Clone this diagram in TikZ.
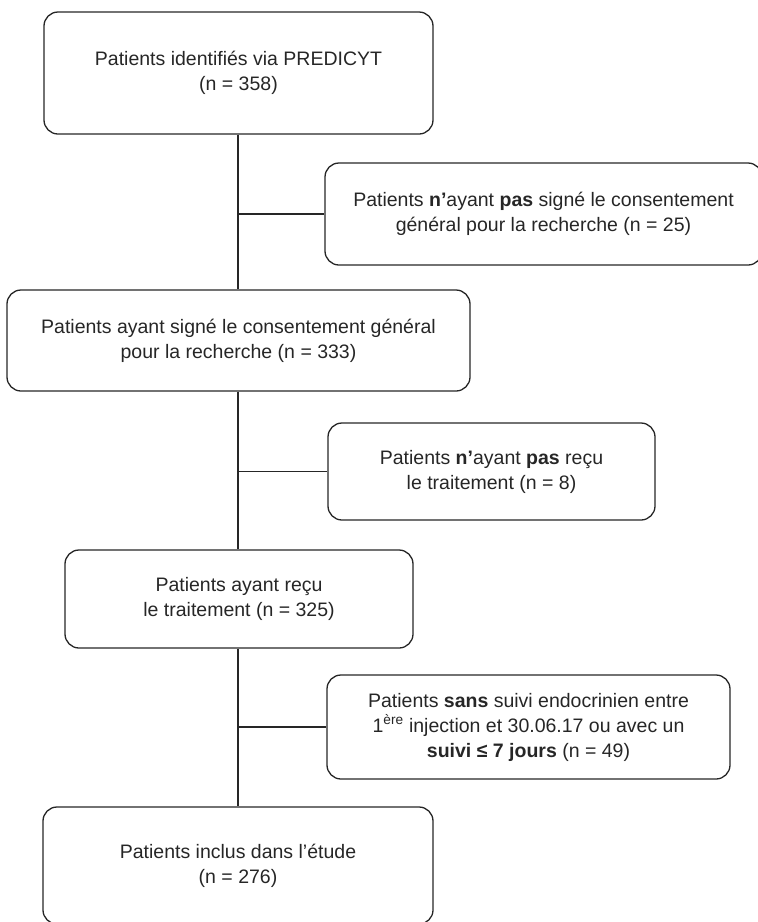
\documentclass[tikz,border=0pt]{standalone}
\usepackage{fontspec}
\setmainfont{Liberation Sans}
\usepackage{tikz}

\tikzset{
  boite/.style={draw=black!85, line width=1.3pt, rounded corners=14pt, align=center,
    inner sep=0pt, text=black!85, font=\fontsize{19.5}{25}\selectfont},
  lien/.style={draw=black!85, line width=1.3pt}
}

\begin{document}
\begin{tikzpicture}[x=1pt,y=-1pt]
\useasboundingbox (0,0) rectangle (758,922);

\node[boite, minimum width=389pt, minimum height=122pt] (ident) at (238.5,73)
  {Patients identifiés via PREDICYT\\(n = 358)};
\node[boite, minimum width=437pt, minimum height=102pt] (nonsigne) at (543.5,214)
  {Patients \textbf{n’}ayant \textbf{pas} signé le consentement\\général pour la recherche (n = 25)};
\node[boite, minimum width=463pt, minimum height=101pt] (signe) at (238.5,340.5)
  {Patients ayant signé le consentement général\\pour la recherche (n = 333)};
\node[boite, minimum width=327pt, minimum height=97pt] (nontraite) at (491.5,471.5)
  {Patients \textbf{n’}ayant \textbf{pas} reçu\\le traitement (n = 8)};
\node[boite, minimum width=348pt, minimum height=98pt] (traite) at (239,599)
  {Patients ayant reçu\\le traitement (n = 325)};
\node[boite, minimum width=403pt, minimum height=104pt] (sanssuivi) at (528.5,727)
  {Patients \textbf{sans} suivi endocrinien entre\\1\textsuperscript{ère} injection et 30.06.17 ou avec un\\\textbf{suivi ≤ 7 jours} (n = 49)};
\node[boite, minimum width=390pt, minimum height=117pt] (inclus) at (238,865.5)
  {Patients inclus dans l’étude\\(n = 276)};

% branchements sur le tronc
\coordinate (j1) at (238,214);
\coordinate (j2) at (238,471.5);
\coordinate (j3) at (238,727);

\draw[lien] (ident.south -| j1) -- (signe.north -| j1);
\draw[lien] (signe.south -| j1) -- (traite.north -| j1);
\draw[lien] (traite.south -| j1) -- (inclus.north -| j1);
\draw[lien] (j1) -- (nonsigne.west);
\draw[lien] (j2) -- (nontraite.west);
\draw[lien] (j3) -- (sanssuivi.west);
\end{tikzpicture}
\end{document}
